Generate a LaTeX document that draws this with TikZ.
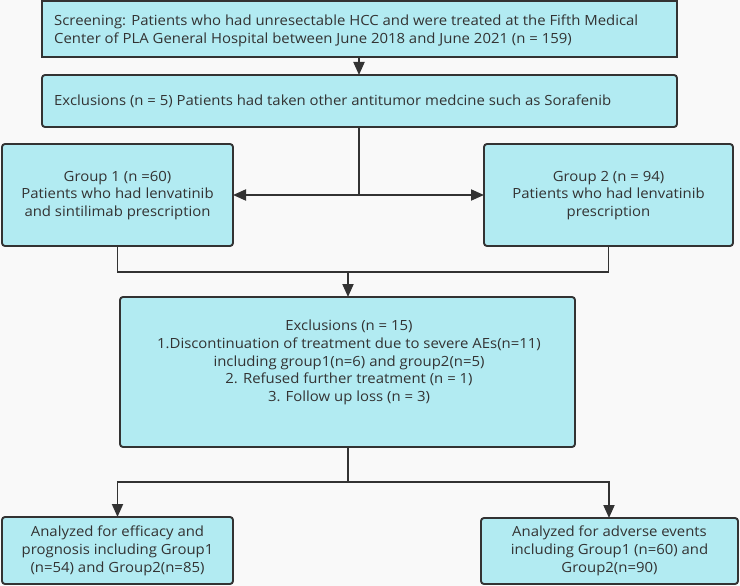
\documentclass[tikz,border=0pt]{standalone}
\usepackage{fontspec}
\setmainfont{Open Sans}[FakeStretch=1.065]
\usetikzlibrary{arrows.meta}
\definecolor{boxfill}{HTML}{B2EBF2}
\definecolor{ink}{HTML}{333333}
\definecolor{bg}{HTML}{F9F9F9}
\begin{document}
\begin{tikzpicture}[x=1pt,y=-1pt,
  box/.style={draw=ink,fill=boxfill,line width=1.9pt,rounded corners=3pt,inner sep=0pt},
  lbl/.style={text=ink,align=center,inner sep=0pt,font=\fontsize{14}{17.7}\selectfont},
  conn/.style={draw=ink,line width=1.9pt},
  arr/.style={conn,-{Triangle[length=13pt,width=11pt]}}]
\fill[bg] (0,0) rectangle (740,586);
\useasboundingbox (0,0) rectangle (740,586);
% boxes
\draw[box,rounded corners=0pt] (42,1) rectangle (677,57);
\node[lbl,align=left,anchor=west] (screen) at (54,30.5) {Screening: Patients who had unresectable HCC and were treated at the Fifth Medical\\Center of PLA General Hospital between June 2018 and June 2021 (n = 159)};
\coordinate (screenb) at (359,57);
\draw[box] (42,75) rectangle (677,127);
\node[lbl,anchor=west] (excl1) at (54,101) {Exclusions (n = 5) Patients had taken other antitumor medcine such as Sorafenib};
\coordinate (excl1t) at (359,75);
\coordinate (excl1b) at (359,127);
\coordinate (split) at (359,195);
\draw[box] (2,144) rectangle (233,246);
\node[lbl] (g1) at (117.5,195.5) {Group 1 (n =60)\\Patients who had lenvatinib\\and sintilimab prescription};
\coordinate (g1r) at (233,195);
\coordinate (g1b) at (117.5,246);
\draw[box] (484,144) rectangle (733,246);
\node[lbl] (g2) at (608.5,195.5) {Group 2 (n = 94)\\Patients who had lenvatinib\\prescription};
\coordinate (g2l) at (484,195);
\coordinate (g2b) at (608.5,246);
\coordinate (g1j) at (117.5,272);
\coordinate (g2j) at (608.5,272);
\coordinate (merge) at (348,272);
\draw[box] (120,297) rectangle (575,447);
\node[lbl] (excl2) at (349,362.5) {Exclusions (n = 15)\\1.Discontinuation of treatment due to severe AEs(n=11)\\including group1(n=6) and group2(n=5)\\2. Refused further treatment (n = 1)\\3. Follow up loss (n = 3)};
\coordinate (excl2t) at (348,297);
\coordinate (excl2b) at (348,447);
\coordinate (split2) at (348,482);
\coordinate (l2) at (117.5,482);
\coordinate (r2) at (609,482);
\draw[box] (2,517) rectangle (233,584);
\node[lbl] (eff) at (117.5,551) {Analyzed for efficacy and\\prognosis including Group1\\(n=54) and Group2(n=85)};
\coordinate (efft) at (117.5,517);
\draw[box] (481,518) rectangle (738,584);
\node[lbl] (ae) at (609.5,551) {Analyzed for adverse events\\including Group1 (n=60) and\\Group2(n=90)};
\coordinate (aet) at (609,518);
% connectors
\draw[arr] (screenb) -- (excl1t);
\draw[conn] (excl1b) -- (split);
\draw[arr] (split) -- (g1r);
\draw[arr] (split) -- (g2l);
\draw[conn] (g1b) -- (g1j) -- (g2j) -- (g2b);
\draw[arr] (merge) -- (excl2t);
\draw[conn] (excl2b) -- (split2);
\draw[arr] (split2) -- (l2) -- (efft);
\draw[arr] (split2) -- (r2) -- (aet);
\end{tikzpicture}
\end{document}
